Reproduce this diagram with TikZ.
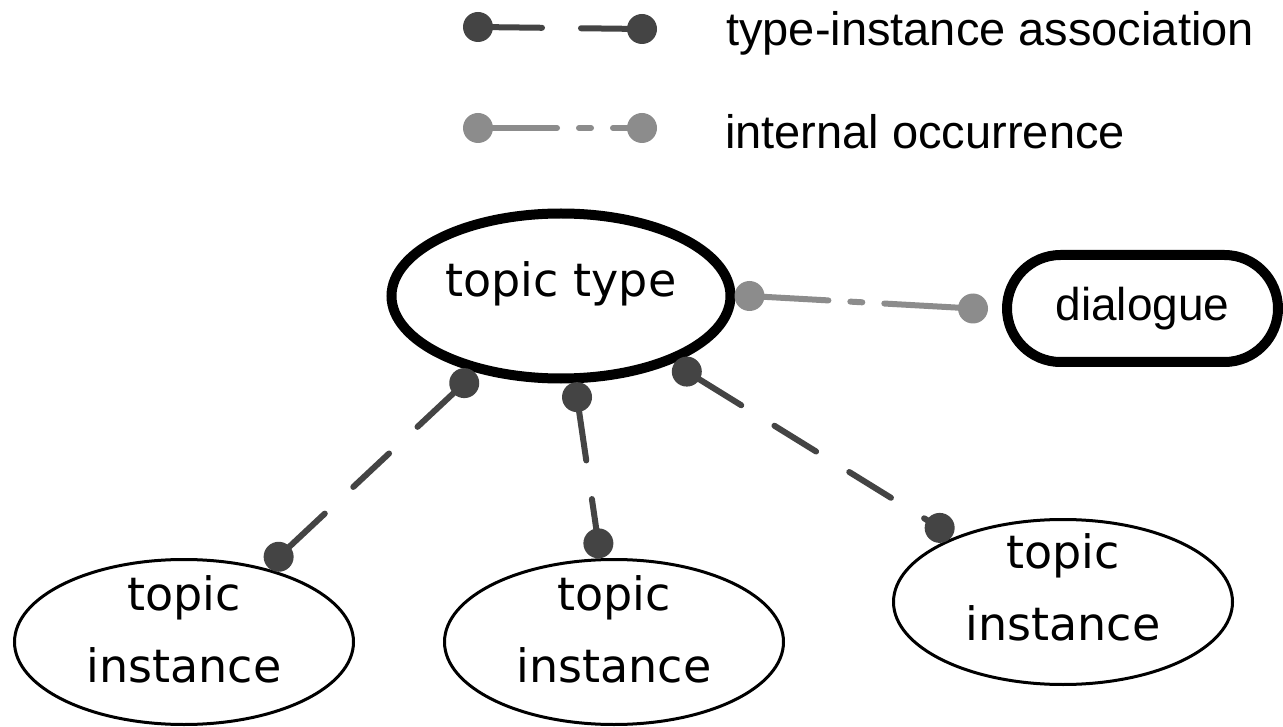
\documentclass[tikz,border=0pt]{standalone}
\usepackage{fontspec}
\setmainfont{Liberation Sans}
\newfontfamily\roundfont{DejaVu Sans}
\usetikzlibrary{shapes.geometric}
\definecolor{assocgray}{HTML}{444444}
\definecolor{occgray}{HTML}{8C8C8C}

\begin{document}
\begin{tikzpicture}[x=1pt, y=-1pt,
  typenode/.style={ellipse, draw=black, line width=10pt, minimum width=339pt,
    minimum height=165pt, outer sep=19pt, inner sep=0pt},
  instnode/.style={ellipse, draw=black, line width=3pt, minimum width=339pt,
    minimum height=165pt, outer sep=16.5pt, inner sep=0pt},
  occnode/.style={rectangle, rounded corners=53.5pt, draw=black, line width=10pt,
    minimum width=271pt, minimum height=107pt, outer sep=34pt, inner sep=0pt,
    font=\fontsize{46}{55}\selectfont},
  nodetext/.style={font={\roundfont\fontsize{46}{72}\selectfont}, inner sep=0pt,
    align=center, anchor=base},
  legendtext/.style={font=\fontsize{47}{56}\selectfont, inner sep=0pt, anchor=base west},
  assocline/.style={draw=assocgray, line width=6pt, line cap=round,
    dash pattern=on 64pt off 39pt on 49pt off 39pt on 49pt off 39pt on 49pt off 39pt on 400pt},
  occline/.style={draw=occgray, line width=6pt, line cap=round,
    dash pattern=on 79pt off 22pt on 12pt off 22pt on 400pt},
  assocdot/.style={fill=assocgray},
  occdot/.style={fill=occgray},
]
% canvas
\fill[white] (0,0) rectangle (1283,727);
\useasboundingbox (0,0) rectangle (1283,727);

% legend
\coordinate (lgA1) at (478,27);
\coordinate (lgA2) at (642,29);
\coordinate (lgB1) at (478,128);
\coordinate (lgB2) at (642,128);
\node[legendtext] (lgAtext) at (726,46) {type-instance association};
\node[legendtext] (lgBtext) at (725,149) {internal occurrence};

% topics
\node[typenode] (tt) at (561,296) {};
\node[nodetext] (tttext) at ([yshift=-1pt]tt.center) {topic type};
\node[occnode] (dlg) at (1142.5,308.5) {dialogue};
\node[instnode] (i1) at (184,642) {};
\node[nodetext] (i1text) at ([yshift=-40pt]i1.center) {topic\\instance};
\node[instnode] (i2) at (614,642) {};
\node[nodetext] (i2text) at ([yshift=-40pt]i2.center) {topic\\instance};
\node[instnode] (i3) at (1063,602) {};
\node[nodetext] (i3text) at ([yshift=-38pt]i3.center) {topic\\instance};

% connectors
\draw[assocline] (lgA1) -- (lgA2);
\draw[occline] (lgB1) -- (lgB2);
\draw[assocline] (tt.222.2) -- (i1.42.4);
\draw[assocline] (tt.-81.2) -- (i2.99.1);
\draw[assocline] (tt.-31.2) -- (i3.149);
\draw[occline] (tt.-0.9) -- (dlg.west);

% end dots
\fill[assocdot] (lgA1) circle[radius=15] (lgA2) circle[radius=15];
\fill[occdot] (lgB1) circle[radius=15] (lgB2) circle[radius=15];
\fill[assocdot] (tt.222.2) circle[radius=15] (i1.42.4) circle[radius=15];
\fill[assocdot] (tt.-81.2) circle[radius=15] (i2.99.1) circle[radius=15];
\fill[assocdot] (tt.-31.2) circle[radius=15] (i3.149) circle[radius=15];
\fill[occdot] (tt.-0.9) circle[radius=15] (dlg.west) circle[radius=15];
\end{tikzpicture}
\end{document}
